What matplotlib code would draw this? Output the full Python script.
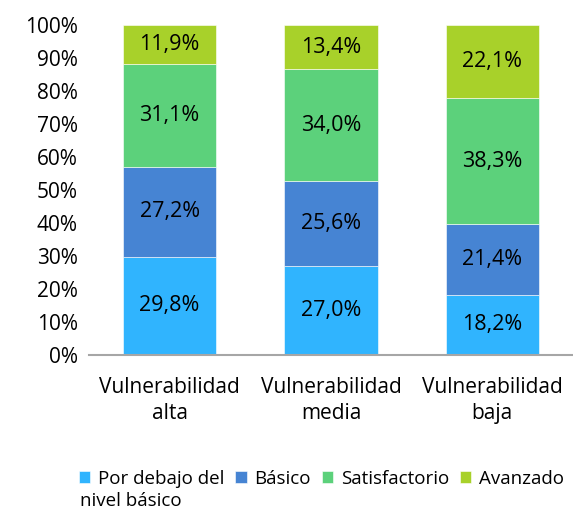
import numpy as np
import matplotlib
matplotlib.use('agg')
import matplotlib.pyplot as plt

plt.rcParams['font.family'] = ['Open Sans', 'DejaVu Sans']

categories = ['Vulnerabilidad\nalta', 'Vulnerabilidad\nmedia', 'Vulnerabilidad\nbaja']
levels = ['Por debajo del', 'Básico', 'Satisfactorio', 'Avanzado']
level_wrap = 'nivel básico'
por_debajo = [29.8, 27.0, 18.2]
basico = [27.2, 25.6, 21.4]
satisfactorio = [31.1, 34.0, 38.3]
avanzado = [11.9, 13.4, 22.1]
colors = ['#30B4FE', '#4684D3', '#5CD17B', '#A8D12A']

series = [por_debajo, basico, satisfactorio, avanzado]

fig = plt.figure(figsize=(5.73, 5.12), dpi=100)
ax = fig.add_axes([89 / 573, 1 - 355 / 512, 484 / 573, 330 / 512])

x = np.arange(len(categories))
bottom = np.zeros(len(categories))
for vals, lab, col in zip(series, levels, colors):
    vals = np.array(vals)
    ax.bar(x, vals, bottom=bottom, width=0.58, color=col, label=lab,
           edgecolor='white', linewidth=0.4)
    for xi, b, v in zip(x, bottom, vals):
        ax.text(xi, b + v / 2, '{:.1f}%'.format(v).replace('.', ','),
                ha='center', va='center', fontsize=15.5, color='black')
    bottom += vals

ax.set_xlim(-0.5, 2.5)
ax.set_ylim(0, 100)
ax.set_yticks(np.arange(0, 101, 10))
ax.set_yticklabels(['{}%'.format(t) for t in range(0, 101, 10)], fontsize=15)
ax.set_xticks(x)
ax.set_xticklabels(categories, fontsize=15, linespacing=1.3)
ax.tick_params(axis='both', length=0)
ax.tick_params(axis='x', pad=16)
ax.tick_params(axis='y', pad=8)
for s in ['top', 'right', 'left']:
    ax.spines[s].set_visible(False)
ax.spines['bottom'].set_color('#A6A6A6')
ax.spines['bottom'].set_linewidth(1.5)

leg = fig.legend(loc='center left', bbox_to_anchor=(79 / 573, 1 - 479 / 512),
                 ncol=4, frameon=False, fontsize=13.5, handlelength=0.6,
                 handleheight=0.6, handletextpad=0.4, columnspacing=0.6,
                 borderaxespad=0, borderpad=0)

# second line of the first legend label, under its first line
fig.canvas.draw()
bb = leg.get_texts()[0].get_window_extent()
fig.text(80 / 573, (bb.y0 - 13) / 512, level_wrap,
         fontsize=13.5, ha='left', va='center')

fig.savefig('out.png', dpi=100)
